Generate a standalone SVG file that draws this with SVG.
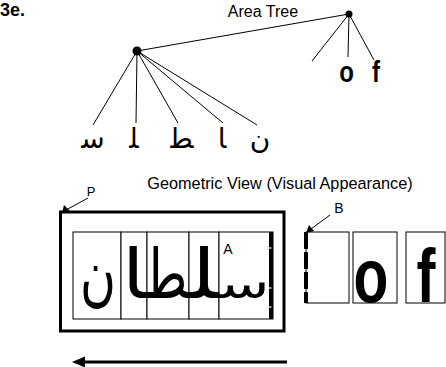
<svg xmlns="http://www.w3.org/2000/svg" width="446" height="367" viewBox="0 0 446 367">
<style>
.t{font-family:"Liberation Sans",Arial,sans-serif;fill:#000}
.b{font-weight:bold}
.ar{font-family:"DejaVu Sans",sans-serif;fill:#000}
.big{font-family:"DejaVu Sans",sans-serif;fill:#000;font-size:68px}
.ln{stroke:#000;stroke-width:1;fill:none}
.box{stroke:#000;stroke-width:1;fill:#fff}
</style>
<rect width="446" height="367" fill="#fff"/>
<text class="t b" x="0" y="16" font-size="18">3e.</text>
<text class="t" x="263" y="17" font-size="16" text-anchor="middle">Area Tree</text>
<g id="connectors">
<line class="ln" x1="349" y1="14" x2="137" y2="51"/>
<line class="ln" x1="349" y1="14" x2="312" y2="61"/>
<line class="ln" x1="349" y1="14" x2="348" y2="57"/>
<line class="ln" x1="349" y1="14" x2="374" y2="60"/>
<line class="ln" x1="137" y1="51" x2="93" y2="125"/>
<line class="ln" x1="137" y1="51" x2="136" y2="123"/>
<line class="ln" x1="137" y1="51" x2="178" y2="123"/>
<line class="ln" x1="137" y1="51" x2="223" y2="123"/>
<line class="ln" x1="137" y1="51" x2="257" y2="125"/>
</g>
<g id="root"><circle cx="349" cy="14" r="3.5" fill="#000"/></g>
<g id="word-node"><circle cx="137" cy="51" r="4.5" fill="#000"/></g>
<g id="leaf-o"><text class="t b" font-size="30" text-anchor="middle" transform="translate(346.5,82) scale(0.8,1)">o</text></g>
<g id="leaf-f"><text class="t b" font-size="30" text-anchor="middle" transform="translate(376,82) scale(0.8,1)">f</text></g>
<g id="leaf-seen"><text class="ar" x="93" y="148" font-size="28" text-anchor="middle">&#xFEB3;</text></g>
<g id="leaf-lam"><text class="ar" x="134" y="148" font-size="28" text-anchor="middle">&#xFEE0;</text></g>
<g id="leaf-tah"><text class="ar" x="182" y="148" font-size="28" text-anchor="middle">&#xFEC4;</text></g>
<g id="leaf-alef"><text class="ar" x="222" y="148" font-size="28" text-anchor="middle">&#xFE8E;</text></g>
<g id="leaf-noon"><text class="ar" x="260" y="148" font-size="28" text-anchor="middle">&#x0646;</text></g>
<text class="t" x="280" y="189" font-size="16.3" text-anchor="middle">Geometric View (Visual Appearance)</text>
<g id="P-box">
<rect x="60.5" y="212" width="223.5" height="119" fill="none" stroke="#000" stroke-width="3"/>
<rect class="box" x="73" y="232" width="48" height="87"/>
<rect class="box" x="121" y="232" width="26" height="87"/>
<rect class="box" x="147" y="232" width="42" height="87"/>
<rect class="box" x="189" y="232" width="30" height="87"/>
<rect class="box" x="219" y="232" width="54" height="87"/>
<text class="big" x="80" y="298" textLength="36" lengthAdjust="spacingAndGlyphs">&#x0646;</text>
<text class="big" x="122" y="298" textLength="24.5" lengthAdjust="spacingAndGlyphs">&#xFE8E;</text>
<text class="big" x="147.5" y="298" textLength="41" lengthAdjust="spacingAndGlyphs">&#xFEC4;</text>
<text class="big" x="189.5" y="298" textLength="29" lengthAdjust="spacingAndGlyphs">&#xFEE0;</text>
<text class="big" x="0" y="0" textLength="50" lengthAdjust="spacingAndGlyphs" transform="translate(219.5,298) scale(1,0.6)">&#xFEB3;</text>
<rect x="269" y="232" width="4" height="87" fill="#000"/>
<line x1="269" y1="248" x2="271.5" y2="248" stroke="#fff" stroke-width="1.2"/>
<line x1="269" y1="288" x2="271.5" y2="288" stroke="#fff" stroke-width="1.2"/>
<line x1="269" y1="307" x2="271.5" y2="307" stroke="#fff" stroke-width="1.2"/>
<text class="t" x="228" y="254" font-size="14" text-anchor="middle">A</text>
</g>
<g id="P-label">
<text class="t" x="91" y="196" font-size="13" text-anchor="middle">P</text>
<line class="ln" x1="88" y1="198" x2="66" y2="210" stroke-width="1.5"/>
<polygon points="62,213 64,205 70,211" fill="#000"/>
</g>
<g id="box-space">
<rect class="box" x="306" y="232" width="43" height="71"/>
<line x1="306" y1="232" x2="306" y2="303" stroke="#000" stroke-width="4" stroke-dasharray="17 3"/>
</g>
<g id="box-o">
<rect class="box" x="353" y="232" width="44" height="71"/>
<text class="t b" font-size="76" text-anchor="middle" transform="translate(371,302) scale(0.75,1)">o</text>
</g>
<g id="box-f">
<rect class="box" x="406" y="232" width="39" height="71"/>
<text class="t b" font-size="76" text-anchor="middle" transform="translate(426,302) scale(0.75,1)">f</text>
</g>
<g id="B-label">
<text class="t" x="339" y="213" font-size="14" text-anchor="middle">B</text>
<line class="ln" x1="330" y1="215" x2="311" y2="229" stroke-width="1.5"/>
<polygon points="306,233 309,225 314,231" fill="#000"/>
</g>
<g id="direction">
<line x1="287" y1="362" x2="82" y2="362" stroke="#000" stroke-width="3"/>
<polygon points="72,362 85,356.5 85,367.5" fill="#000"/>
</g>
</svg>
